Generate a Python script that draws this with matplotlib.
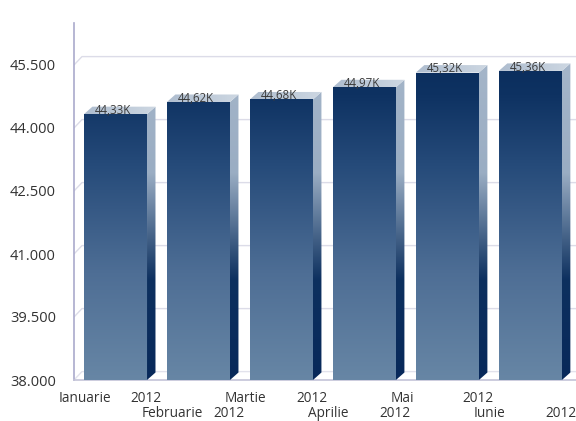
import numpy as np
import matplotlib
matplotlib.use("Agg")
import matplotlib.pyplot as plt
from matplotlib.colors import LinearSegmentedColormap
from matplotlib.patches import Polygon

# data
months = ["Ianuarie", "Februarie", "Martie", "Aprilie", "Mai", "Iunie"]
years = ["2012", "2012", "2012", "2012", "2012", "2012"]
values = [44330, 44620, 44680, 44970, 45320, 45360]
value_labels = ["44,33K", "44,62K", "44,68K", "44,97K", "45,32K", "45,36K"]
y_ticks = [38000, 39500, 41000, 42500, 44000, 45500]
y_tick_labels = ["38.000", "39.500", "41.000", "42.500", "44.000", "45.500"]

plt.rcParams['font.family'] = ['Open Sans', 'DejaVu Sans']

Y_MIN, Y_MAX = 38000, 46500
BAR_W = 0.76
DX, DY = 0.102, 178        # bar depth in data units
WALL_DX, WALL_DY = 0.096, 200

fig = plt.figure(figsize=(5.76, 4.21), dpi=100)
ax = fig.add_axes([74 / 576, (421 - 380) / 421, 502 / 576, 357 / 421])
ax.set_xlim(-0.5, 5.55)
ax.set_ylim(Y_MIN, Y_MAX)

# gradients along the whole height of the axes
front_cmap = LinearSegmentedColormap.from_list(
    "front", [(0.0, "#6786a5"), (0.3, "#4e6e95"), (0.6, "#264b7a"),
              (0.8, "#0e3262"), (1.0, "#052756")])
side_cmap = LinearSegmentedColormap.from_list(
    "side", [(0.0, "#08295a"), (0.28, "#0d305f"), (0.42, "#4d6a8e"),
             (0.58, "#9aadc3"), (1.0, "#a8b8cb")])
top_cmap = LinearSegmentedColormap.from_list("top", ["#aebdcf", "#cdd7e2"])
grad = np.linspace(0, 1, 256).reshape(-1, 1)
hgrad = np.linspace(0, 1, 64).reshape(1, -1)

# back wall gridlines
for t in y_ticks:
    if t == Y_MIN:
        continue
    ax.plot([-0.5, -0.5 + WALL_DX, 5.55], [t, t + WALL_DY, t + WALL_DY],
            color="#dcdce8", lw=1, zorder=1, solid_capstyle="butt")
ax.plot([-0.5, -0.5 + WALL_DX, 5.55], [Y_MIN, Y_MIN + WALL_DY, Y_MIN + WALL_DY],
        color="#e2e2ec", lw=1, zorder=1)

for i, v in enumerate(values):
    x0 = i - BAR_W / 2
    x1 = i + BAR_W / 2
    front = Polygon([(x0, Y_MIN), (x1, Y_MIN), (x1, v), (x0, v)],
                    closed=True, facecolor="none", edgecolor="none")
    side = Polygon([(x1, Y_MIN), (x1 + DX, Y_MIN + DY), (x1 + DX, v + DY), (x1, v)],
                   closed=True, facecolor="none", edgecolor="none")
    top = Polygon([(x0, v), (x1, v), (x1 + DX, v + DY), (x0 + DX, v + DY)],
                  closed=True, facecolor="none", edgecolor="none")
    for p in (front, side, top):
        ax.add_patch(p)
    im = ax.imshow(grad, cmap=front_cmap, origin="lower", aspect="auto",
                   extent=[x0, x1, Y_MIN, Y_MAX], zorder=3, interpolation="bilinear")
    im.set_clip_path(front)
    im = ax.imshow(grad, cmap=side_cmap, origin="lower", aspect="auto",
                   extent=[x1, x1 + DX, Y_MIN, Y_MAX], zorder=3, interpolation="bilinear")
    im.set_clip_path(side)
    im = ax.imshow(hgrad, cmap=top_cmap, origin="lower", aspect="auto",
                   extent=[x0, x1 + DX, v, v + DY], zorder=3, interpolation="bilinear")
    im.set_clip_path(top)
    ax.text(i - 0.03, v + 6, value_labels[i], ha="center", va="baseline",
            fontsize=8.3, color="#3c3c3c", zorder=5)

# axes styling
ax.set_xlim(-0.5, 5.55)
ax.set_ylim(Y_MIN, Y_MAX)
for s in ("top", "right"):
    ax.spines[s].set_visible(False)
ax.spines["left"].set_color("#aaaacc")
ax.spines["bottom"].set_color("#c4c4d8")
ax.spines["left"].set_linewidth(1.2)
ax.spines["bottom"].set_linewidth(1.2)
ax.set_yticks(y_ticks)
ax.set_yticklabels(y_tick_labels, fontsize=10.5, color="#333333")
ax.tick_params(axis="y", length=0, pad=13)
ax.set_xticks([])

# two-row month / year labels
xt = ax.get_xaxis_transform()
for i, (m, yr) in enumerate(zip(months, years)):
    row_y = -0.063 if i % 2 == 0 else -0.105
    ax.text(i - 0.68, row_y, m, transform=xt, ha="left", va="baseline",
            fontsize=9.8, color="#333333", clip_on=False)
    ax.text(i + 0.55, row_y, yr, transform=xt, ha="right", va="baseline",
            fontsize=9.8, color="#333333", clip_on=False)

fig.savefig("out.png", dpi=100)
